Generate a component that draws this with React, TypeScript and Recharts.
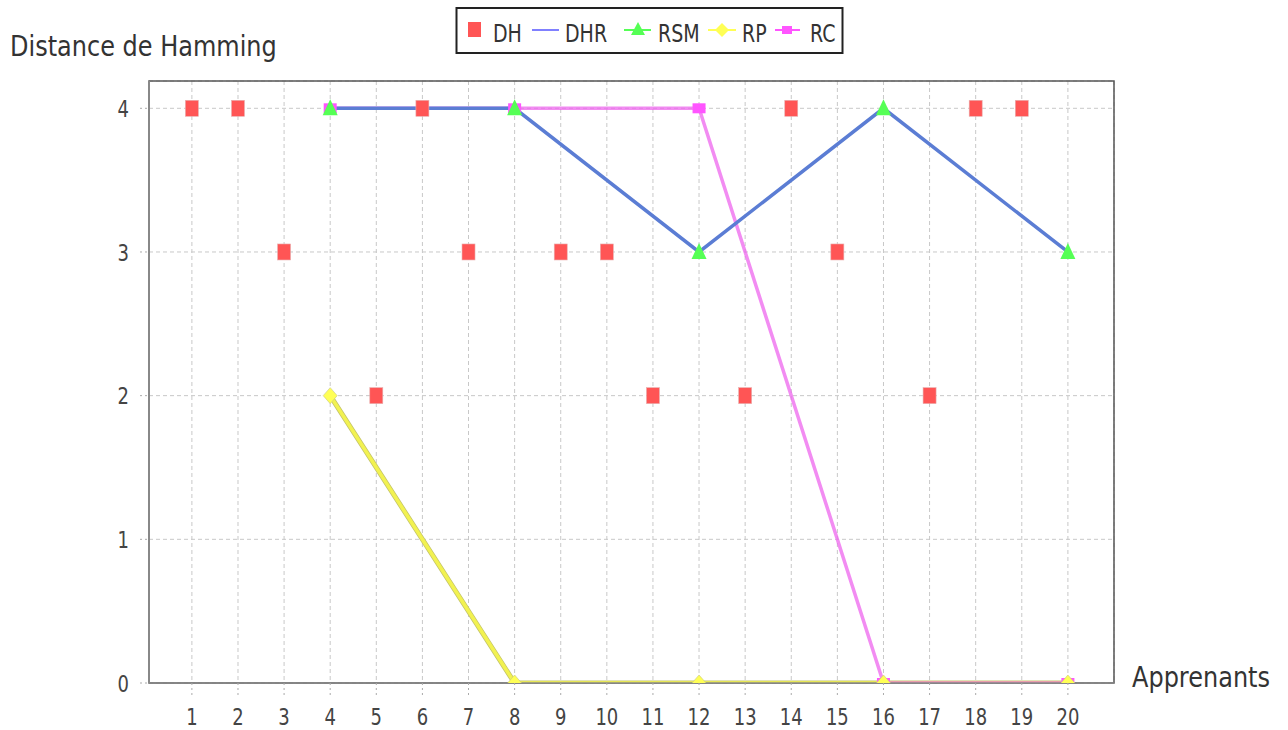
import React from 'react'
import {
  ComposedChart,
  Line,
  XAxis,
  YAxis,
  CartesianGrid,
  ReferenceArea,
} from 'recharts'

const apprenants = [1, 2, 3, 4, 5, 6, 7, 8, 9, 10, 11, 12, 13, 14, 15, 16, 17, 18, 19, 20]
const distanceTicks = [0, 1, 2, 3, 4]

const dh = [4, 4, 3, null, 2, 4, 3, null, 3, 3, 2, null, 2, 4, 3, null, 2, 4, 4, null]
const dhr = [null, null, null, 4, null, null, null, 4, null, null, null, 3, null, null, null, 4, null, null, null, 3]
const rsm = [null, null, null, 4, null, null, null, 4, null, null, null, 3, null, null, null, 4, null, null, null, 3]
const rp = [null, null, null, 2, null, null, null, 0, null, null, null, 0, null, null, null, 0, null, null, null, 0]
const rc = [null, null, null, 4, null, null, null, 4, null, null, null, 4, null, null, null, 0, null, null, null, 0]

const X_DOMAIN: [number, number] = [0.07, 21]
const Y_DOMAIN: [number, number] = [0, 4.19]

const rows = apprenants.map((x, i) => ({
  x,
  dh: dh[i],
  dhr: dhr[i],
  rsm: rsm[i],
  rp: rp[i],
  rc: rc[i],
}))

const COLORS = {
  dh: '#ff5555',
  dhr: '#5b7dd4',
  dhrLegend: '#8080ff',
  rsm: '#55ff55',
  rp: '#f2f250',
  rpMarker: '#ffff55',
  rc: '#ee66ee',
  rcMarker: '#ff55ff',
}

const FONT = '"DejaVu Sans", Verdana, sans-serif'
const STRETCH = 1.3

// markers -------------------------------------------------------------
function makeDot(kind: 'square' | 'smallSquare' | 'triangle' | 'diamond', color: string) {
  return (props: any) => {
    const { cx, cy, value, index } = props
    if (value == null || cx == null || cy == null || Number.isNaN(cy)) {
      return <g key={`e-${kind}-${index}`} />
    }
    const key = `${kind}-${index}`
    if (kind === 'square') {
      return <rect key={key} x={cx - 6.5} y={cy - 8} width={13} height={16} fill={color} stroke="#e8b0b0" strokeWidth={0.6} />
    }
    if (kind === 'smallSquare') {
      return <rect key={key} x={cx - 6.5} y={cy - 5} width={13} height={10} fill={color} />
    }
    if (kind === 'triangle') {
      return (
        <polygon
          key={key}
          points={`${cx},${cy - 9} ${cx + 7.5},${cy + 7} ${cx - 7.5},${cy + 7}`}
          fill={color}
        />
      )
    }
    return (
      <polygon
        key={key}
        points={`${cx},${cy - 8} ${cx + 7},${cy} ${cx},${cy + 8} ${cx - 7},${cy}`}
        fill={color}
        stroke="#c8c880"
        strokeWidth={0.6}
      />
    )
  }
}

// ticks ---------------------------------------------------------------
function XTick(props: any) {
  const { x, y, payload } = props
  return (
    <g transform={`translate(${x},${y}) scale(1,${STRETCH})`}>
      <text x={0} y={14} textAnchor="middle" fontSize={18} fill="#444" fontFamily={FONT}>
        {payload.value}
      </text>
    </g>
  )
}

function YTick(props: any) {
  const { x, y, payload } = props
  return (
    <g transform={`translate(${x},${y}) scale(1,${STRETCH})`}>
      <text x={0} y={6.6} textAnchor="end" fontSize={18} fill="#444" fontFamily={FONT}>
        {payload.value}
      </text>
    </g>
  )
}

// legend + axis titles ------------------------------------------------
function Overlay() {
  const txt = (x: number, label: string) => (
    <g transform={`translate(${x},42) scale(1,${STRETCH})`}>
      <text fontSize={19} fill="#333" fontFamily={FONT}>
        {label}
      </text>
    </g>
  )
  return (
    <svg
      width={1288}
      height={730}
      style={{ position: 'absolute', left: 0, top: 0, pointerEvents: 'none' }}
    >
      <g transform={`translate(10,55.5) scale(1,1.15)`}>
        <text fontSize={24} fill="#333" fontFamily={FONT}>
          Distance de Hamming
        </text>
      </g>
      <g transform={`translate(1132,686.5) scale(1,1.2)`}>
        <text fontSize={24} fill="#333" fontFamily={FONT}>
          Apprenants
        </text>
      </g>

      <rect x={456.5} y={8} width={386} height={45} fill="#fff" stroke="#222" strokeWidth={2} />
      <rect x={468} y={22} width={13} height={15} fill={COLORS.dh} />
      {txt(493, 'DH')}
      <line x1={532} y1={30} x2={559} y2={30} stroke={COLORS.dhrLegend} strokeWidth={2} />
      {txt(565, 'DHR')}
      <line x1={624} y1={30} x2={651} y2={30} stroke={COLORS.rsm} strokeWidth={2} />
      <polygon points="638,22 645,35 631,35" fill={COLORS.rsm} />
      {txt(658, 'RSM')}
      <line x1={708} y1={30} x2={736} y2={30} stroke={COLORS.rpMarker} strokeWidth={2} />
      <polygon points="722,23 729,30 722,37 715,30" fill={COLORS.rpMarker} />
      {txt(742, 'RP')}
      <line x1={775} y1={30} x2={800} y2={30} stroke={COLORS.rcMarker} strokeWidth={2} />
      <rect x={782} y={26} width={10} height={8} fill={COLORS.rcMarker} />
      {txt(810, 'RC')}
    </svg>
  )
}

export default function App() {
  return (
    <div style={{ position: 'absolute', left: 0, top: 0, width: 1288, height: 730, background: '#fff' }}>
      <ComposedChart
        width={1288}
        height={730}
        data={rows}
        margin={{ top: 81, right: 174, bottom: 0, left: 89 }}
      >
        <CartesianGrid stroke="#c8c8c8" strokeDasharray="4 3" />
        <ReferenceArea
          x1={X_DOMAIN[0]}
          x2={X_DOMAIN[1]}
          y1={Y_DOMAIN[0]}
          y2={Y_DOMAIN[1]}
          fill="none"
          stroke="#555"
          strokeWidth={1.5}
          ifOverflow="visible"
        />
        <XAxis
          type="number"
          dataKey="x"
          domain={X_DOMAIN}
          ticks={apprenants}
          interval={0}
          allowDataOverflow
          height={47}
          tickSize={12}
          tickMargin={12}
          axisLine={{ stroke: '#888', strokeWidth: 1.5 }}
          tickLine={{ stroke: '#aaa', strokeDasharray: '2 3' }}
          tick={<XTick />}
        />
        <YAxis
          type="number"
          domain={Y_DOMAIN}
          ticks={distanceTicks}
          allowDataOverflow
          width={60}
          tickSize={9}
          tickMargin={11}
          axisLine={{ stroke: '#888', strokeWidth: 2 }}
          tickLine={{ stroke: '#aaa', strokeDasharray: '2 3' }}
          tick={<YTick />}
        />

        {/* lines */}
        <Line dataKey="rp" stroke="#c4c46a" strokeWidth={5} dot={false} activeDot={false} connectNulls isAnimationActive={false} />
        <Line dataKey="rp" stroke={COLORS.rp} strokeWidth={3.5} dot={false} activeDot={false} connectNulls isAnimationActive={false} />
        <Line dataKey="rc" stroke={COLORS.rc} strokeOpacity={0.75} strokeWidth={3.5} dot={false} activeDot={false} connectNulls isAnimationActive={false} />
        <Line dataKey="dhr" stroke={COLORS.dhr} strokeWidth={3.5} dot={false} activeDot={false} connectNulls isAnimationActive={false} />

        {/* markers */}
        <Line dataKey="rc" stroke="none" dot={makeDot('smallSquare', COLORS.rcMarker)} activeDot={false} isAnimationActive={false} />
        <Line dataKey="rp" stroke="none" dot={makeDot('diamond', COLORS.rpMarker)} activeDot={false} isAnimationActive={false} />
        <Line dataKey="rsm" stroke="none" dot={makeDot('triangle', COLORS.rsm)} activeDot={false} isAnimationActive={false} />
        <Line dataKey="dh" stroke="none" dot={makeDot('square', COLORS.dh)} activeDot={false} isAnimationActive={false} />
      </ComposedChart>
      <Overlay />
    </div>
  )
}
